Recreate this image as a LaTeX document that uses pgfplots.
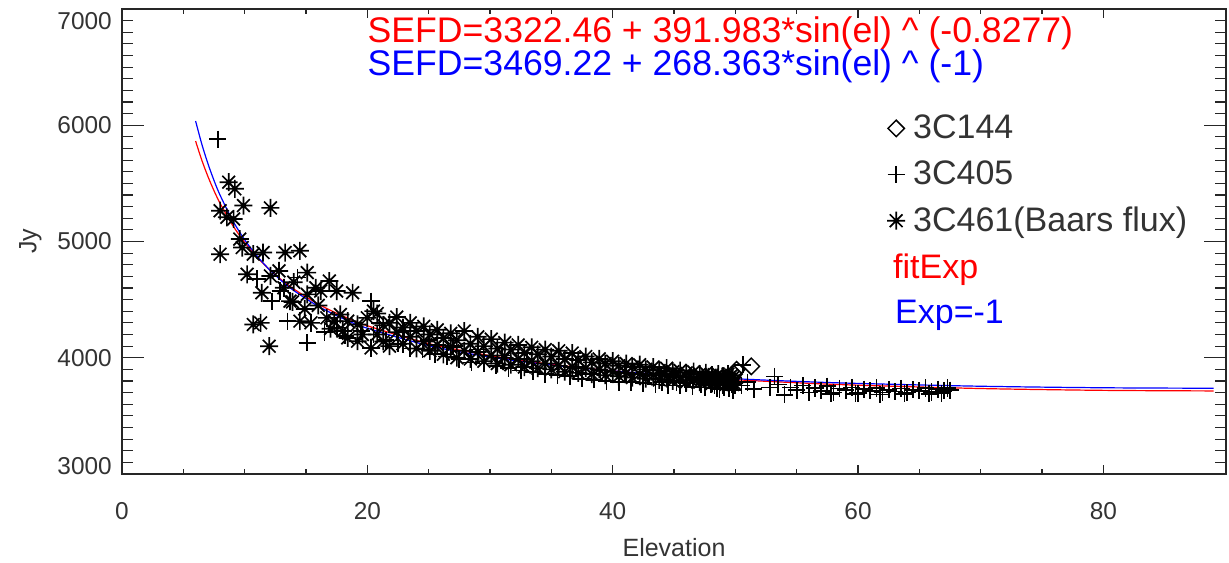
\documentclass[border=0pt]{standalone}
\usepackage{fontspec}
\setmainfont{Liberation Sans}
\usepackage{pgfplots}
\pgfplotsset{compat=1.18}
\pgfdeclareplotmark{ast8}{%
  \pgfpathmoveto{\pgfqpoint{-\pgfplotmarksize}{0pt}}\pgfpathlineto{\pgfqpoint{\pgfplotmarksize}{0pt}}%
  \pgfpathmoveto{\pgfqpoint{0pt}{-\pgfplotmarksize}}\pgfpathlineto{\pgfqpoint{0pt}{\pgfplotmarksize}}%
  \pgfpathmoveto{\pgfqpoint{-0.707\pgfplotmarksize}{-0.707\pgfplotmarksize}}\pgfpathlineto{\pgfqpoint{0.707\pgfplotmarksize}{0.707\pgfplotmarksize}}%
  \pgfpathmoveto{\pgfqpoint{-0.707\pgfplotmarksize}{0.707\pgfplotmarksize}}\pgfpathlineto{\pgfqpoint{0.707\pgfplotmarksize}{-0.707\pgfplotmarksize}}%
  \pgfusepathqstroke}
\begin{document}
\begin{tikzpicture}
\begin{axis}[
  scale only axis, width=552pt, height=232.5pt,
  xmin=0, xmax=90, ymin=3000, ymax=7000,
  xtick={0,20,40,60,80}, xticklabels={0,20,40,60,80}, minor x tick num=3,
  ytick={3000,4000,5000,6000,7000},
  yticklabels={\raisebox{4pt}[\height][\depth]{3000},4000,5000,6000,\raisebox{-6pt}[\height][\depth]{7000}},
  minor y tick num=9,
  tick align=inside, tick pos=both, xticklabel pos=lower, yticklabel pos=left,
  x tick style={/pgfplots/major tick length=4.65pt, /pgfplots/minor tick length=2.3pt},
  y tick style={/pgfplots/major tick length=10.8pt, /pgfplots/minor tick length=5.5pt},
  tick style={black!85, line width=0.6pt},
  axis line style={black!85, line width=0.7pt},
  tick label style={font=\fontsize{12.2}{14}\selectfont, text=black!80},
  xticklabel style={yshift=-10.5pt},
  yticklabel style={xshift=-1.6pt},
  xlabel={Elevation}, ylabel={Jy},
  label style={font=\fontsize{12.5}{15}\selectfont, text=black!80},
  xlabel style={at={(axis description cs:0.5,-0.159)}, anchor=center},
  ylabel style={at={(axis description cs:-0.083,0.5)}, anchor=center},
  legend style={at={(axis cs:61.2,6160)}, anchor=north west, draw=none, fill=none,
    font=\fontsize{17}{20}\selectfont, text=black!80, row sep=5.6pt, column sep=2pt},
  legend cell align=left,
]
\coordinate (bl) at (rel axis cs:0,0);
\coordinate (tr) at (rel axis cs:1,1);
% fit curves
\addplot[red, line width=0.6pt, smooth, forget plot] coordinates {
(6,5863.7)(6.5,5701.4)(7,5560.5)(7.5,5436.9)(8,5327.6)(9,5142.7)(10,4992.0)(11,4866.8)(12,4760.8)(13,4670.0)(14,4591.3)(16,4461.4)(18,4358.6)(20,4275.2)(25,4122.1)(30,4018.2)(35,3943.5)(40,3887.6)(45,3844.7)(50,3811.2)(55,3784.8)(60,3764.0)(70,3735.1)(80,3719.4)(89,3714.5)};
\addplot[blue, line width=0.6pt, smooth, forget plot] coordinates {
(6,6036.6)(6.5,5839.8)(7,5671.3)(7.5,5525.2)(8,5397.5)(9,5184.7)(10,5014.7)(11,4875.7)(12,4759.9)(13,4662.2)(14,4578.5)(16,4442.8)(18,4337.7)(20,4253.8)(25,4104.2)(30,4005.9)(35,3937.1)(40,3886.7)(45,3848.7)(50,3819.5)(55,3796.8)(60,3779.1)(70,3754.8)(80,3741.7)(89,3737.6)};
% 3C144
\addplot[only marks, mark=square, mark options={rotate=45}, mark size=2.9pt, black, line width=0.75pt] coordinates {
(49.9,3860)(50.1,3897)(51.3,3926)};
\addlegendentry{3C144}
% 3C405
\addplot[only marks, mark=+, mark size=4.3pt, black, line width=0.85pt] coordinates {
(7.8,5880)(11.0,4680)(12.2,4487)(12.9,4574)(13.5,4315)(14.3,4689)(15.1,4128)(16.5,4220)(17.5,4260)(18.2,4190)(19.5,4230)(20.3,4487)
(20.5,4200)(21,4300)(21.5,4150)(22.5,4120)(23,4230)(23.5,4080)(24.5,4070)(25,4150)(25.5,4030)(26.5,4010)(27,4100)(27.5,3990)(28.5,3960)(29,4070)(29.5,3950)(30.5,3930)(31,4020)(31.5,3910)(32.5,3890)(33,3990)(33.5,3880)(34.5,3860)(35,3950)(35.5,3850)(36.5,3840)(37,3920)(37.5,3820)(38.5,3810)(39,3890)(39.5,3800)(40.5,3790)(41,3870)(41.5,3790)(42.5,3780)(43,3850)(43.5,3770)(44.5,3760)(45,3830)(45.5,3760)(46.5,3750)(47,3810)(47.5,3745)(48,3770)(48.5,3740)(48.7,3730)(49,3760)(49.3,3790)(49.5,3740)(49.8,3720)(50,3760)
(46,3780)(47.2,3770)(48.3,3760)(49.1,3745)(49.7,3770)(45.2,3790)(44,3790)
(50.5,3760)(50.6,3940)(51,3790)(51.5,3730)(52.8,3745)(53.2,3839)(53.5,3770)(54.0,3681)(54.5,3745)(55,3720)(55.5,3760)(56,3700)(56.5,3740)(57,3715)(57.5,3755)(57.8,3690)(58,3700)(58.5,3735)(59,3720)(59.5,3745)(59.8,3690)(60,3695)(60.5,3730)(61,3715)(61.5,3740)(61.8,3685)(62,3700)(62.5,3725)(63,3710)(63.5,3735)(63.8,3690)(64,3700)(64.5,3725)(65,3715)(65.5,3740)(65.8,3690)(66,3705)(66.5,3730)(66.8,3695)(67,3715)(67.3,3740)(67.5,3720)};
\addlegendentry{3C405}
% 3C461
\addplot[only marks, mark=ast8, mark size=4.5pt, black, line width=0.85pt] coordinates {
(8.0,5265)(8.0,4891)(8.55,5208)(8.7,5510)(9.1,5194)(9.2,5453)(9.6,5021)(9.8,4948)(9.9,5309)(10.2,4718)(10.7,4891)(10.7,4286)(11.3,4300)(11.4,4559)(11.5,4905)(12.0,4099)(12.1,5289)(12.1,4704)(12.8,4747)(13.2,4602)(13.3,4905)(13.7,4487)(14.5,4920)(14.5,4315)(15.1,4732)(15.1,4545)(15.4,4300)(15.8,4602)(16.2,4574)(16.7,4343)(16.9,4660)(17.3,4315)(17.5,4574)(17.8,4372)(18.4,4315)(18.4,4170)(18.8,4559)(19.2,4286)(19.2,4142)(20.0,4343)(20.3,4084)(20.5,4401)
(14.0,4650)(13.9,4480)(16.0,4450)(17.0,4250)(18.0,4230)(19.6,4200)(14.9,4420)
(20.8,4200)(20.8,4380)(21.3,4140)(21.3,4280)(21.8,4300)(21.8,4100)(22.4,4220)(22.4,4350)(22.9,4120)(22.9,4260)(23.5,4180)(23.5,4300)(24.0,4080)(24.0,4230)(24.6,4140)(24.6,4270)(25.1,4060)(25.1,4200)(25.7,4110)(25.7,4240)(26.2,4030)(26.2,4170)(26.8,4090)(26.8,4210)(27.3,4000)(27.3,4150)(27.9,4060)(27.9,4230)(28.4,3990)(28.4,4120)(29.0,4050)(29.0,4180)(29.5,3970)(29.5,4100)(30.1,4020)(30.1,4160)(30.6,3950)(30.6,4080)(31.2,4000)(31.2,4130)(31.7,3940)(31.7,4070)(32.3,3990)(32.3,4110)(32.8,3920)(32.8,4040)(33.4,3970)(33.4,4090)(33.9,3910)(33.9,4030)(34.5,3950)(34.5,4070)(35.0,3900)(35.0,4010)(35.6,3930)(35.6,4060)(36.1,3880)(36.1,3990)(36.7,3920)(36.7,4040)(37.2,3870)(37.2,3980)(37.8,3910)(37.8,4010)(38.3,3860)(38.3,3960)(38.9,3900)(38.9,3990)(39.4,3850)(39.4,3950)(40.0,3880)(40.0,3970)(40.5,3840)(40.5,3930)(41.1,3870)(41.1,3950)(41.6,3830)(41.6,3920)(42.2,3860)(42.2,3940)(42.7,3820)(42.7,3900)(43.3,3850)(43.3,3920)(43.8,3810)(43.8,3890)(44.4,3840)(44.4,3910)(44.9,3800)(44.9,3880)(45.5,3830)(45.5,3890)(46.0,3790)(46.0,3870)(46.6,3820)(46.6,3880)(47.1,3790)(47.1,3860)(47.6,3810)(47.6,3870)(48.1,3780)(48.1,3850)(48.6,3800)(48.6,3860)(49.0,3780)(49.0,3840)(49.4,3790)(49.4,3860)(49.8,3770)(49.8,3830)
(48.3,3810)(48.8,3790)(49.2,3820)(49.6,3800)(49.9,3780)(49.7,3850)
(44.2,3860)(45.2,3850)(46.3,3840)(47.3,3830)(48.4,3830)(49.1,3810)(49.5,3830)(48.0,3800)(47.8,3835)};
\addlegendentry{3C461(Baars flux)}
\addlegendimage{empty legend}
\addlegendentry{\hspace*{-10pt}\textcolor{red}{fitExp}}
\addlegendimage{empty legend}
\addlegendentry{\hspace*{-9pt}\textcolor{blue}{Exp=-1}}
\node[anchor=west, text=red, font=\fontsize{17.8}{20}\selectfont, inner sep=0pt] at (axis cs:20,6793) {SEFD=3322.46 + 391.983*sin(el) \textasciicircum{} (-0.8277)};
\node[anchor=west, text=blue, font=\fontsize{17.8}{20}\selectfont, inner sep=0pt] at (axis cs:20,6509) {SEFD=3469.22 + 268.363*sin(el) \textasciicircum{} (-1)};
\end{axis}
\pgfresetboundingbox
\path ([shift={(-61pt,-44.5pt)}]bl) rectangle ([shift={(1.5pt,4.5pt)}]tr);
\end{tikzpicture}
\end{document}
